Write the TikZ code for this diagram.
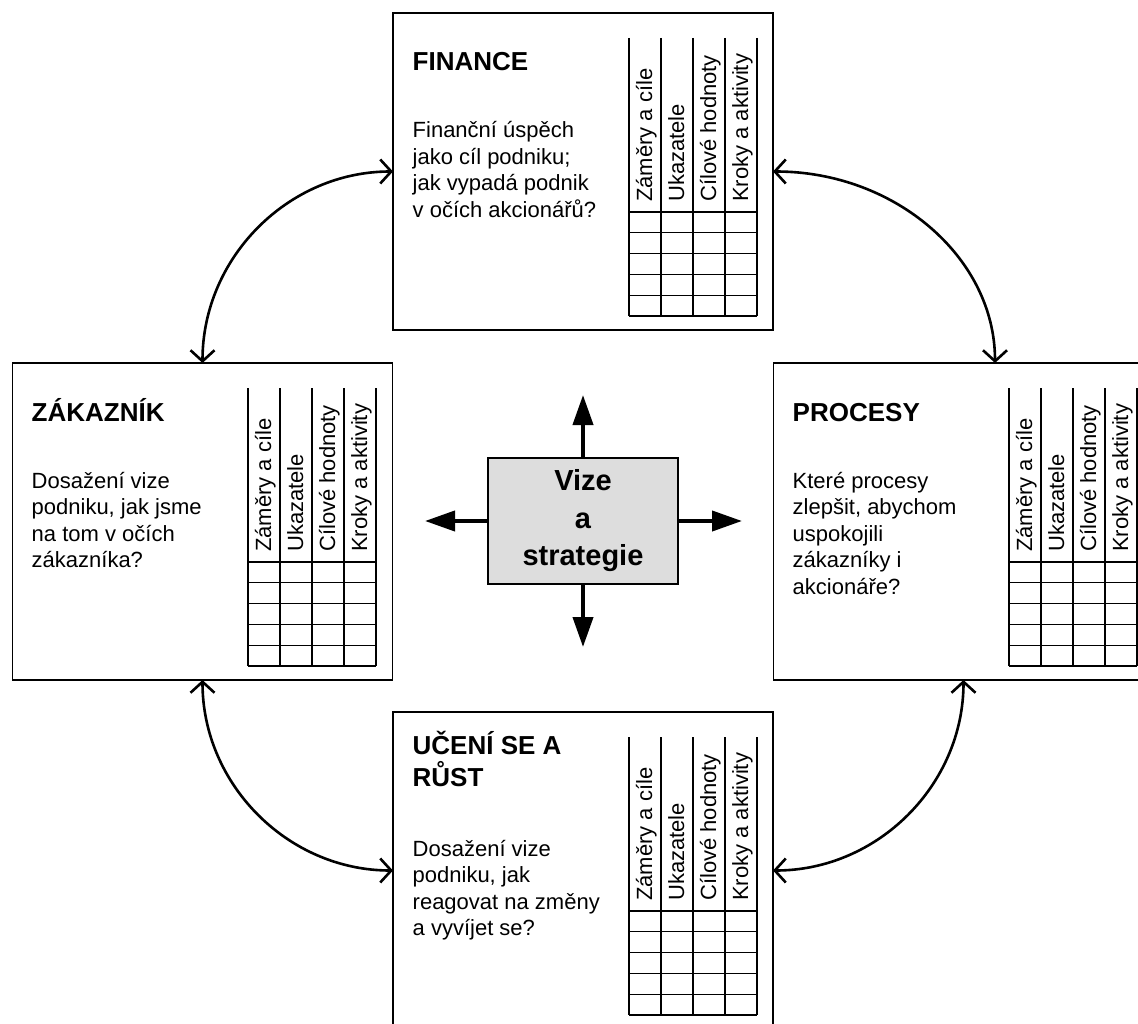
\documentclass[tikz,border=0pt]{standalone}
\usepackage{fontspec}
\setmainfont{Liberation Sans}
\usetikzlibrary{arrows.meta}
\usetikzlibrary{calc}

\definecolor{svetlasediva}{RGB}{221,221,221}

\tikzset{
	karta/.style={draw,line width=1.5pt,minimum width=380pt,minimum height=317pt,inner sep=0pt,outer sep=0pt},
	stred/.style={draw,fill=svetlasediva,line width=1.5pt,minimum width=190pt,minimum height=126pt,inner sep=0pt,outer sep=0pt,align=center,font=\fontsize{29}{37.5}\selectfont\bfseries},
	nadpis/.style={anchor=base west,inner sep=0pt,align=left,font=\fontsize{26}{32}\selectfont\bfseries},
	popis/.style={anchor=base west,inner sep=0pt,align=left,font=\fontsize{22}{26.5}\selectfont},
	sloupec/.style={anchor=base west,rotate=90,inner sep=0pt,font=\fontsize{22}{26}\selectfont},
	mriz/.style={line width=1.3pt},
	vazba/.style={line width=2.6pt,{Straight Barb[length=11pt,width=24pt]}-{Straight Barb[length=11pt,width=24pt]}},
	sipka/.style={line width=4pt,-{Triangle[length=30pt,width=20pt]}}
}

% tabulka v karte: #1 jmeno, #2,#3 levy horni roh karty
\newcommand{\tabulka}[3]{
	\foreach \i in {0,...,4}
		\draw[mriz] (#2+236+32*\i,#3+25) -- (#2+236+32*\i,#3+303);
	\foreach \j in {0,...,5}
		\draw[mriz] (#2+236,#3+199+20.8*\j) -- (#2+364,#3+199+20.8*\j);
	\foreach \t [count=\k from 0] in {Záměry a cíle,Ukazatele,Cílové hodnoty,Kroky a aktivity}
		\node[sloupec] (#1-s\k) at (#2+259+32*\k,#3+189) {\t};
}

\begin{document}
\begin{tikzpicture}[x=1pt,y=-1pt]
	\useasboundingbox (0,0) rectangle (1138,1024);

	\node[karta] (fin) at (583,171.5) {};
	\node[karta] (zak) at (202.5,521.5) {};
	\node[karta] (pro) at (963.5,521.5) {};
	\node[karta] (uce) at (583,870.5) {};

	\tabulka{fin}{393}{13}
	\tabulka{zak}{12}{363}
	\tabulka{pro}{773}{363}
	\tabulka{uce}{393}{712}

	% base = posledni radek
	\node[nadpis] (fin-n) at (412.5,71) {FINANCE};
	\node[popis] (fin-p) at (412.5,217.5) {Finanční úspěch\\jako cíl podniku;\\jak vypadá podnik\\v očích akcionářů?};

	\node[nadpis] (zak-n) at (31.5,421) {ZÁKAZNÍK};
	\node[popis] (zak-p) at (31.5,567.5) {Dosažení vize\\podniku, jak jsme\\na tom v očích\\zákazníka?};

	\node[nadpis] (pro-n) at (792.5,421) {PROCESY};
	\node[popis] (pro-p) at (792.5,594) {Které procesy\\zlepšit, abychom\\uspokojili\\zákazníky i\\akcionáře?};

	\node[nadpis] (uce-n) at (412.5,786.5) {UČENÍ SE A\\RŮST};
	\node[popis] (uce-p) at (412.5,935.5) {Dosažení vize\\podniku, jak\\reagovat na změny\\a vyvíjet se?};

	\node[stred] (vize) at (583,521) {Vize\\a\\strategie};

	\coordinate (vize-n) at (583,395);
	\coordinate (vize-s) at (583,647);
	\coordinate (vize-w) at (425,521);
	\coordinate (vize-e) at (742,521);
	\draw[sipka] (vize.north) -- (vize-n);
	\draw[sipka] (vize.south) -- (vize-s);
	\draw[sipka] (vize.west) -- (vize-w);
	\draw[sipka] (vize.east) -- (vize-e);

	\coordinate (pro-h) at ($(pro.north)+(31.5,0)$);
	\draw[vazba] (fin.west) .. controls ($(fin.west)!0.55!(zak.north |- fin.west)$) and ($(zak.north)!0.55!(zak.north |- fin.west)$) .. (zak.north);
	\draw[vazba] (fin.east) .. controls ($(fin.east)!0.55!(pro-h |- fin.east)$) and ($(pro-h)!0.55!(pro-h |- fin.east)$) .. (pro-h);
	\draw[vazba] (zak.south) .. controls ($(zak.south)!0.55!(zak.south |- uce.west)$) and ($(uce.west)!0.55!(zak.south |- uce.west)$) .. (uce.west);
	\draw[vazba] (pro.south) .. controls ($(pro.south)!0.55!(pro.south |- uce.east)$) and ($(uce.east)!0.55!(pro.south |- uce.east)$) .. (uce.east);
\end{tikzpicture}
\end{document}
